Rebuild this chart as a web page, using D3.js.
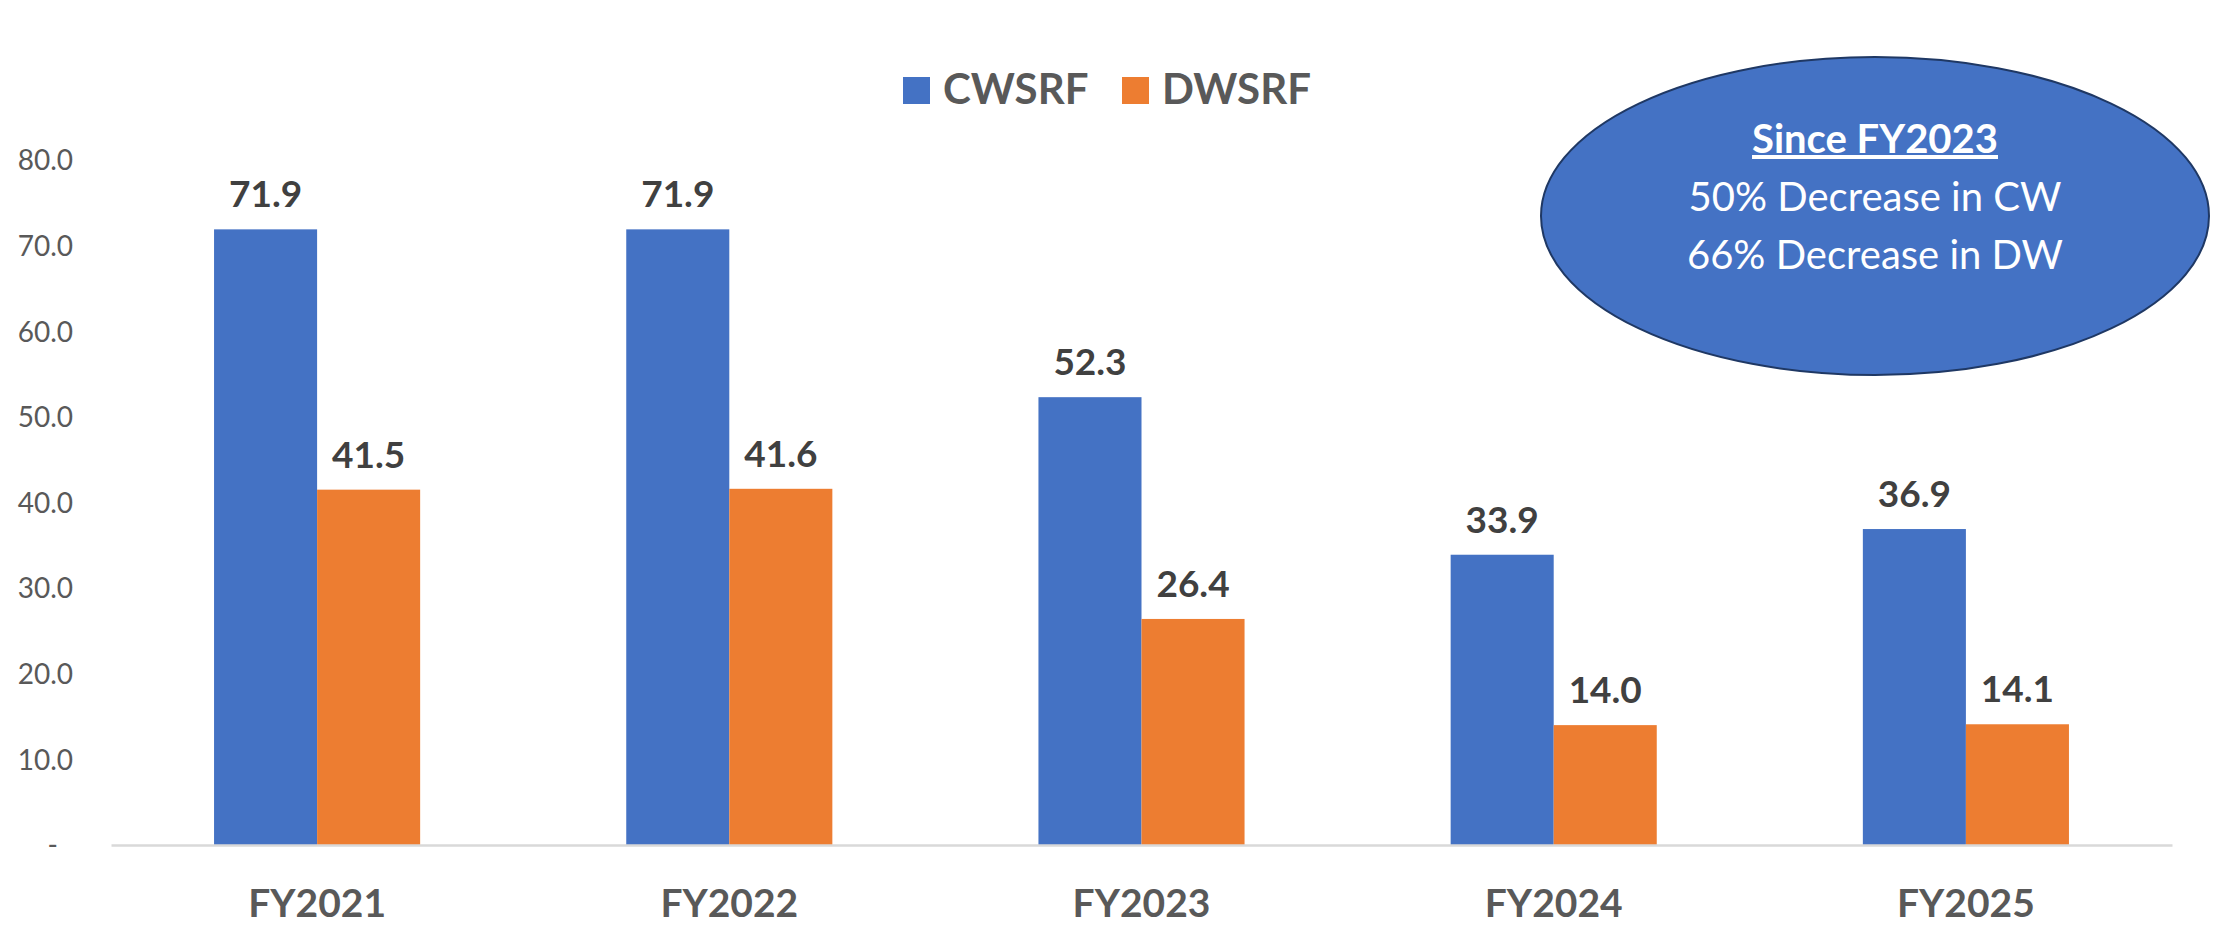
<!DOCTYPE html>
<html>
<head>
<meta charset="utf-8">
<script src="https://cdn.jsdelivr.net/npm/d3@7"></script>
<style>
  html, body { margin: 0; padding: 0; background: #fff; }
  svg { display: block; font-family: Lato, 'Open Sans', sans-serif; }
</style>
</head>
<body>
<svg id="chart"></svg>
<script>
const years = ['FY2021', 'FY2022', 'FY2023', 'FY2024', 'FY2025'];
const seriesNames = ['CWSRF', 'DWSRF'];
const cwsrf = [71.9, 71.9, 52.3, 33.9, 36.9];
const dwsrf = [41.5, 41.6, 26.4, 14.0, 14.1];
const yTicks = [0, 10, 20, 30, 40, 50, 60, 70, 80];
const noteLines = ['Since FY2023', '50% Decrease in CW', '66% Decrease in DW'];

const colors = { CWSRF: '#4472C4', DWSRF: '#ED7D31' };

const width = 2216;
const height = 927;
const margin = { top: 160, right: 44, bottom: 82, left: 111 };

const svg = d3.select('#chart')
  .attr('width', width)
  .attr('height', height);

const rows = years.map((y, i) => ({ year: y, CWSRF: cwsrf[i], DWSRF: dwsrf[i] }));

const x = d3.scaleBand()
  .domain(years)
  .range([margin.left, width - margin.right])
  .paddingInner(0.5)
  .paddingOuter(0.25);

const xs = d3.scaleBand()
  .domain(seriesNames)
  .range([0, x.bandwidth()]);

const y = d3.scaleLinear()
  .domain([0, 80])
  .range([height - margin.bottom, margin.top]);

// y axis labels
const yAxis = svg.append('g')
  .attr('transform', `translate(${margin.left - 38},0)`)
  .call(d3.axisLeft(y).tickValues(yTicks).tickSize(0).tickPadding(0)
    .tickFormat(d => d === 0 ? '-' : d3.format('.1f')(d)));
yAxis.select('.domain').remove();
yAxis.selectAll('text')
  .attr('fill', '#595959')
  .style('font-family', 'Lato, sans-serif')
  .style('font-size', '28px')
  .attr('dy', '0.35em')
  .attr('dx', d => d === 0 ? -15 : 0);

// bars
const groups = svg.append('g')
  .selectAll('g')
  .data(rows)
  .join('g')
  .attr('transform', d => `translate(${x(d.year)},0)`);

groups.selectAll('rect')
  .data(d => seriesNames.map(k => ({ key: k, value: d[k] })))
  .join('rect')
  .attr('x', d => xs(d.key))
  .attr('y', d => y(d.value))
  .attr('width', xs.bandwidth())
  .attr('height', d => y(0) - y(d.value))
  .attr('fill', d => colors[d.key]);

groups.selectAll('text.val')
  .data(d => seriesNames.map(k => ({ key: k, value: d[k] })))
  .join('text')
  .attr('class', 'val')
  .attr('x', d => xs(d.key) + xs.bandwidth() / 2)
  .attr('y', d => y(d.value) - 22)
  .attr('text-anchor', 'middle')
  .attr('fill', '#404040')
  .style('font-weight', 'bold')
  .style('font-size', '37px')
  .text(d => d3.format('.1f')(d.value));

// x axis
const xAxis = svg.append('g')
  .attr('transform', `translate(0,${y(0)})`)
  .call(d3.axisBottom(x).tickSize(0).tickPadding(0));
xAxis.select('.domain')
  .attr('stroke', '#D9D9D9')
  .attr('stroke-width', 2.5);
xAxis.selectAll('text')
  .attr('y', 72)
  .attr('dy', 0)
  .attr('fill', '#595959')
  .style('font-family', 'Lato, sans-serif')
  .style('font-weight', 'bold')
  .style('font-size', '39px');

// legend
const legend = svg.append('g')
  .attr('transform', 'translate(903,77)');
const legendItems = legend.selectAll('g')
  .data(seriesNames)
  .join('g')
  .attr('transform', (d, i) => `translate(${i * 219},0)`);
legendItems.append('rect')
  .attr('width', 27)
  .attr('height', 27)
  .attr('fill', d => colors[d]);
legendItems.append('text')
  .attr('x', 40)
  .attr('y', 27)
  .attr('fill', '#595959')
  .style('font-weight', 'bold')
  .style('font-size', '42px')
  .text(d => d);

// callout
const note = svg.append('g')
  .attr('transform', 'translate(1875,216)');
note.append('ellipse')
  .attr('rx', 334)
  .attr('ry', 159)
  .attr('fill', '#4472C4')
  .attr('stroke', '#1F3864')
  .attr('stroke-width', 2);
note.selectAll('text')
  .data(noteLines)
  .join('text')
  .attr('x', 0)
  .attr('y', (d, i) => -63 + i * 58)
  .attr('text-anchor', 'middle')
  .attr('fill', '#fff')
  .style('font-size', '40px')
  .style('font-weight', (d, i) => i === 0 ? 'bold' : 'normal')
  .style('text-decoration', (d, i) => i === 0 ? 'underline' : 'none')
  .text(d => d);
</script>
</body>
</html>
